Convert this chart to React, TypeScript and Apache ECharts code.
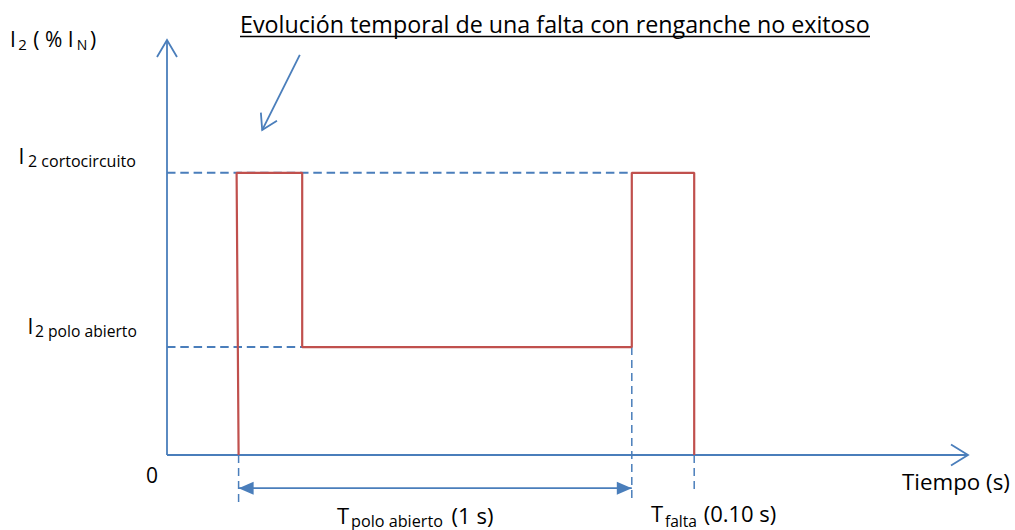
import React, { useEffect, useRef } from "react";
import * as echarts from "echarts";

// ---- data (arbitrary time units on x, % of I_N on y) ----
const levelCortocircuito = 68;
const levelPoloAbierto = 26;
const tFaultBottom = 8.95;
const tFaultTop = 8.7;
const tPoleOpen = 16.9;
const tReclose = 58.1;
const tTrip = 65.9;

const currentTrace: [number, number][] = [
  [tFaultBottom, 0],
  [tFaultTop, levelCortocircuito],
  [tPoleOpen, levelCortocircuito],
  [tPoleOpen, levelPoloAbierto],
  [tReclose, levelPoloAbierto],
  [tReclose, levelCortocircuito],
  [tTrip, levelCortocircuito],
  [tTrip, 0],
];

const guideCc: [number, number][] = [[0, levelCortocircuito], [tReclose, levelCortocircuito]];
const guidePolo: [number, number][] = [[0, levelPoloAbierto], [tPoleOpen, levelPoloAbierto]];
const vGuideStart: [number, number][] = [[tFaultBottom, 0], [tFaultBottom, -11.5]];
const vGuideReclose: [number, number][] = [[tReclose, levelPoloAbierto], [tReclose, -11.5]];
const vGuideTrip: [number, number][] = [[tTrip, 0], [tTrip, -9]];
const spanPoloAbierto: [number, number][] = [[tFaultBottom, -8], [tReclose, -8]];
const annotationArrow: [number, number][] = [[16.6, 96.4], [11.9, 78.3]];
const xAxisLine: [number, number][] = [[0, 0], [100, 0]];
const yAxisLine: [number, number][] = [[0, 0], [0, 100]];

const titleText = "Evolución temporal de una falta con renganche no exitoso";
const xAxisName = "Tiempo (s)";
const originLabel = "0";

const BLUE = "#4a7ebb";
const RED = "#c0504d";
const FONT = "Open Sans";

type Seg = { text: string; x0: number; x1: number; baseline: number; size: number; fit?: boolean };

// text segments: reference span [x0, x1], baseline, font size
const textSegments: Seg[] = [
  { text: titleText, x0: 240, x1: 870, baseline: 32.5, size: 22, fit: true },
  { text: "I", x0: 10, x1: 16, baseline: 46.5, size: 21 },
  { text: "2", x0: 18, x1: 27, baseline: 50, size: 15 },
  { text: "( % I", x0: 31, x1: 76, baseline: 46.5, size: 21 },
  { text: "N", x0: 77, x1: 87, baseline: 50, size: 14 },
  { text: ")", x0: 89, x1: 97, baseline: 46.5, size: 21 },
  { text: "I", x0: 19, x1: 24, baseline: 164, size: 21 },
  { text: "2 cortocircuito", x0: 28, x1: 136, baseline: 167, size: 14, fit: true },
  { text: "I", x0: 28, x1: 33, baseline: 333.5, size: 21 },
  { text: "2 polo abierto", x0: 35, x1: 137, baseline: 336.5, size: 14, fit: true },
  { text: originLabel, x0: 146, x1: 158, baseline: 483, size: 21 },
  { text: xAxisName, x0: 902, x1: 1010, baseline: 489.5, size: 22, fit: true },
  { text: "T", x0: 337, x1: 349, baseline: 524, size: 22 },
  { text: "polo abierto", x0: 351, x1: 443, baseline: 526.5, size: 15, fit: true },
  { text: "(1 s)", x0: 452, x1: 493, baseline: 524, size: 22 },
  { text: "T", x0: 650, x1: 664, baseline: 522, size: 22 },
  { text: "falta", x0: 665, x1: 697, baseline: 526.5, size: 14, fit: true },
  { text: "(0.10 s)", x0: 700, x1: 780, baseline: 522, size: 22 },
];

export default function App() {
  const ref = useRef<HTMLDivElement>(null);

  useEffect(() => {
    document.body.style.margin = "0";
    const chart = echarts.init(ref.current!, undefined, { renderer: "svg" });

    const lineSeries = (data: [number, number][], color: string, width: number, dashed?: number[], z = 2) => ({
      type: "line",
      data,
      symbol: "none",
      clip: false,
      silent: true,
      z,
      lineStyle: { color, width, type: dashed ? dashed : "solid", cap: "butt" },
    });

    chart.setOption({
      animation: false,
      backgroundColor: "#ffffff",
      grid: { left: 167, right: 48, top: 40, bottom: 8.6 },
      xAxis: { type: "value", min: 0, max: 100, show: false },
      yAxis: { type: "value", min: -16, max: 100, show: false },
      series: [
        lineSeries(guideCc, BLUE, 2, [8.5, 4.8], 1),
        lineSeries(guidePolo, BLUE, 2, [8.5, 4.8], 1),
        lineSeries(vGuideStart, BLUE, 1.5, [8, 5], 1),
        lineSeries(vGuideReclose, BLUE, 1.5, [8, 5], 1),
        lineSeries(vGuideTrip, BLUE, 1.5, [8, 5], 1),
        lineSeries(xAxisLine, BLUE, 1.8, undefined, 2),
        lineSeries(yAxisLine, BLUE, 1.8, undefined, 2),
        lineSeries(spanPoloAbierto, BLUE, 1.8, undefined, 2),
        lineSeries(annotationArrow, BLUE, 1.8, undefined, 2),
        lineSeries(currentTrace, RED, 2.2, undefined, 3),
      ],
    });

    const px = (p: [number, number]) => chart.convertToPixel({ gridIndex: 0 }, p) as number[];

    const chevron = (from: number[], tip: number[], L: number, W: number) => {
      const dx = tip[0] - from[0];
      const dy = tip[1] - from[1];
      const len = Math.hypot(dx, dy);
      const d = [dx / len, dy / len];
      const n = [-d[1], d[0]];
      return [
        [tip[0] - L * d[0] + W * n[0], tip[1] - L * d[1] + W * n[1]],
        [tip[0], tip[1]],
        [tip[0] - L * d[0] - W * n[0], tip[1] - L * d[1] - W * n[1]],
      ];
    };

    const yTop = px(yAxisLine[1]);
    const yBot = px(yAxisLine[0]);
    const xEnd = px(xAxisLine[1]);
    const xStart = px(xAxisLine[0]);
    const aS = px(annotationArrow[0]);
    const aE = px(annotationArrow[1]);
    const sA = px(spanPoloAbierto[0]);
    const sB = px(spanPoloAbierto[1]);

    const openStyle = { stroke: BLUE, lineWidth: 1.8, fill: "none" };

    const ctx = document.createElement("canvas").getContext("2d")!;
    const measure = (text: string, size: number) => {
      ctx.font = `${size}px "${FONT}"`;
      const m = ctx.measureText(text);
      return { w: m.width, asc: m.fontBoundingBoxAscent || size * 1.069, desc: m.fontBoundingBoxDescent || size * 0.293 };
    };

    const textEls = textSegments.map((s) => {
      let size = s.size;
      let m = measure(s.text, size);
      if (s.fit) {
        size = (size * (s.x1 - s.x0)) / m.w;
        m = measure(s.text, size);
      }
      const x = s.fit ? s.x0 : (s.x0 + s.x1) / 2 - m.w / 2;
      return {
        type: "text",
        x,
        y: s.baseline - (m.asc - m.desc) / 2,
        style: {
          text: s.text,
          fontSize: size,
          fontFamily: FONT,
          fill: "#000000",
          align: "left",
          verticalAlign: "middle",
        },
        z: 10,
      };
    });

    chart.setOption({
      graphic: [
        { type: "polyline", shape: { points: chevron(yBot, [yTop[0], yTop[1]], 17, 10) }, style: openStyle, z: 5 },
        { type: "polyline", shape: { points: chevron(xStart, [xEnd[0] + 1, xEnd[1]], 17, 10.5) }, style: openStyle, z: 5 },
        { type: "polyline", shape: { points: chevron(aS, aE, 15, 9) }, style: openStyle, z: 5 },
        { type: "polygon", shape: { points: chevron(sB, sA, 15, 6.5) }, style: { fill: BLUE }, z: 5 },
        { type: "polygon", shape: { points: chevron(sA, sB, 15, 6.5) }, style: { fill: BLUE }, z: 5 },
        { type: "line", shape: { x1: 240, y1: 36.5, x2: 870, y2: 36.5 }, style: { stroke: "#000000", lineWidth: 1.3 }, z: 10 },
        ...textEls,
      ],
    });

    return () => chart.dispose();
  }, []);

  return <div ref={ref} style={{ width: 1015, height: 530 }} />;
}
